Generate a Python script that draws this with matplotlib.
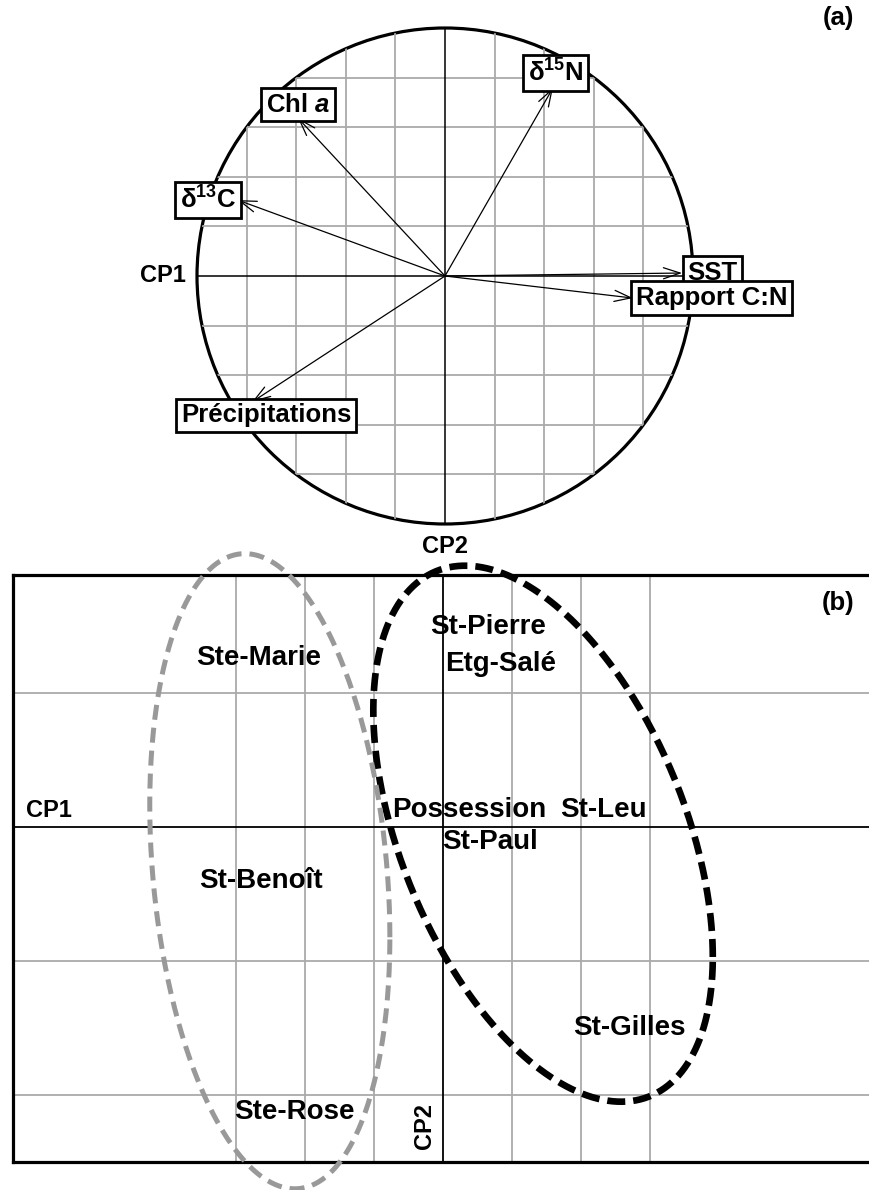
"""ACP : cercle des corrélations (a) et plan factoriel des sites (b)."""

import numpy as np
import matplotlib
matplotlib.use("Agg")
import matplotlib.pyplot as plt
from matplotlib.patches import Circle

plt.rcParams["font.family"] = ["Liberation Sans", "DejaVu Sans"]
plt.rcParams["font.weight"] = "bold"
plt.rcParams["mathtext.fontset"] = "custom"
plt.rcParams["mathtext.default"] = "regular"
plt.rcParams["mathtext.it"] = "Liberation Sans:style=italic:weight=bold"

# (a) variables : coordonnées sur CP1 / CP2
var_names = ["δ$^{15}$N", "Chl $\\mathit{a}$", "δ$^{13}$C", "SST",
             "Rapport C:N", "Précipitations"]
var_cp1 = [0.435, -0.593, -0.835, 0.956, 0.758, -0.778]
var_cp2 = [0.758, 0.637, 0.306, 0.012, -0.089, -0.508]
var_ha = ["center", "center", "right", "left", "left", "center"]
var_va = ["bottom", "bottom", "center", "center", "center", "top"]
var_off = [(2, 1), (0, 1), (-1, 0), (4, 0), (2, 0), (10, -1)]  # décalage (pt)

# (b) sites
site_names = ["Ste-Marie", "St-Pierre", "Etg-Salé", "Possession", "St-Leu",
              "St-Paul", "St-Benoît", "Ste-Rose", "St-Gilles"]
site_cp1 = [-2.67, 0.65, 0.83, 0.38, 2.32, 0.68, -2.64, -2.16, 2.70]
site_cp2 = [1.26, 1.49, 1.22, 0.13, 0.13, -0.11, -0.40, -2.13, -1.50]

# ellipses des deux groupes (centre, écarts, corrélation)
ell_cx = [1.45, -2.51]
ell_cy = [-0.05, -0.33]
ell_sx = [2.46, 1.74]
ell_sy = [2.00, 2.37]
ell_rho = [-0.46, -0.208]
ell_color = ["black", "#999999"]
ell_lw = [4.8, 3.6]
ell_dash = [(2.7, 1.2), (3.0, 1.6)]

W, H = 869, 1190
fig = plt.figure(figsize=(W / 100, H / 100), dpi=100)

# ---------- (a) ----------
cx, cy, r = 445, 276, 248
axa = fig.add_axes([(cx - 1.1 * r) / W, (H - cy - 1.1 * r) / H,
                    2.2 * r / W, 2.2 * r / H])
axa.set_xlim(-1.1, 1.1)
axa.set_ylim(-1.1, 1.1)
axa.set_axis_off()

clip = Circle((0, 0), 1, transform=axa.transData)
for g in np.arange(-0.8, 0.81, 0.2):
    if abs(g) < 1e-9:
        continue
    for ln in (axa.axvline(g, color="#aaaaaa", lw=1.3),
               axa.axhline(g, color="#aaaaaa", lw=1.3)):
        ln.set_clip_path(clip)
for ln in (axa.axvline(0, color="black", lw=1.1),
           axa.axhline(0, color="black", lw=1.1)):
    ln.set_clip_path(clip)
axa.add_patch(Circle((0, 0), 1, fill=False, lw=2.3, color="black"))

for name, x, y, ha, va, off in zip(var_names, var_cp1, var_cp2,
                                   var_ha, var_va, var_off):
    axa.annotate("", xy=(x, y), xytext=(0, 0),
                 arrowprops=dict(arrowstyle="->,head_length=0.6,head_width=0.2",
                                 lw=0.9, color="black", shrinkA=0, shrinkB=0,
                                 mutation_scale=20))
    axa.annotate(name, xy=(x, y), xytext=off, textcoords="offset points",
                 ha=ha, va=va, fontsize=18.5, zorder=5,
                 bbox=dict(boxstyle="square,pad=0.18", fc="white", ec="black", lw=2))

axa.text(-1.045, 0, "CP1", ha="right", va="center", fontsize=17)
axa.text(0, -1.045, "CP2", ha="center", va="top", fontsize=17)
fig.text(838 / W, 1 - 18 / H, "(a)", ha="center", va="center", fontsize=18.5)

# ---------- (b) ----------
px_x, px_y, ox, oy = 69, 134, 443, 827
left, right, top, bottom = 13, 880, 575, 1162
axb = fig.add_axes([left / W, (H - bottom) / H, (right - left) / W,
                    (bottom - top) / H])
axb.set_xlim((left - ox) / px_x, (right - ox) / px_x)
axb.set_ylim((oy - bottom) / px_y, (oy - top) / px_y)
axb.set_xticks([])
axb.set_yticks([])
for s in axb.spines.values():
    s.set_linewidth(2.3)

for g in [-3, -2, -1, 1, 2, 3]:
    axb.axvline(g, color="#aaaaaa", lw=1.3, zorder=1)
for g in [-2, -1, 1]:
    axb.axhline(g, color="#aaaaaa", lw=1.3, zorder=1)
axb.axvline(0, color="black", lw=1.3, zorder=2)
axb.axhline(0, color="black", lw=1.3, zorder=2)

t = np.linspace(0, 2 * np.pi, 400)
for ecx, ecy, sx, sy, rho, col, lw, dash in zip(ell_cx, ell_cy, ell_sx, ell_sy,
                                                ell_rho, ell_color, ell_lw, ell_dash):
    ex = ecx + sx * np.cos(t)
    ey = ecy + sy * (rho * np.cos(t) + np.sqrt(1 - rho ** 2) * np.sin(t))
    axb.plot(ex, ey, color=col, lw=lw, linestyle=(0, dash), clip_on=False, zorder=3)

for name, x, y in zip(site_names, site_cp1, site_cp2):
    axb.text(x, y, name, ha="center", va="center", fontsize=20, zorder=5)

axb.text(0.015, 0.04, "CP1", transform=axb.get_yaxis_transform(),
         ha="left", va="bottom", fontsize=17)
axb.text(-0.1, -2.4, "CP2", rotation=90, ha="right", va="bottom", fontsize=17)
fig.text(838 / W, 1 - 603 / H, "(b)", ha="center", va="center", fontsize=18.5)

fig.savefig("out.png", dpi=100)
